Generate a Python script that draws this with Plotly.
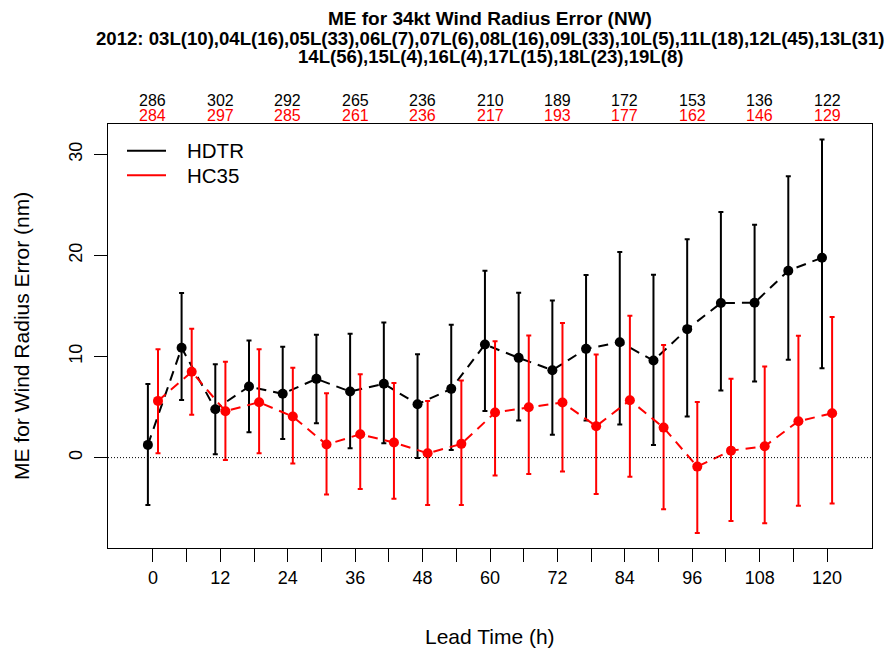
import plotly.graph_objects as go

lead_times = [0, 6, 12, 18, 24, 30, 36, 42, 48, 54, 60, 66, 72, 78, 84, 90, 96, 102, 108, 114, 120]

hdtr_mean = [1.26, 10.86, 4.79, 7.03, 6.31, 7.79, 6.54, 7.30, 5.28, 6.80, 11.19, 9.87, 8.65, 10.76,
             11.42, 9.60, 12.71, 15.29, 15.32, 18.49, 19.77]
hdtr_upper = [7.27, 16.28, 9.24, 11.59, 10.96, 12.15, 12.25, 13.37, 10.23, 13.14, 18.49, 16.31, 15.55, 18.06,
              20.34, 18.09, 21.59, 24.30, 23.04, 27.82, 31.46]
hdtr_lower = [-4.68, 5.71, 0.33, 2.51, 1.85, 3.40, 0.93, 1.42, -0.03, 0.76, 4.62, 3.67, 2.25, 3.67,
              3.27, 1.26, 4.06, 6.63, 7.53, 9.67, 8.85]

hc35_mean = [5.61, 8.49, 4.59, 5.48, 4.06, 1.29, 2.31, 1.49, 0.43, 1.36, 4.46, 4.99, 5.45, 3.11,
             5.68, 2.97, -0.89, 0.69, 1.13, 3.60, 4.39]
hc35_upper = [10.73, 12.74, 9.48, 10.73, 8.88, 6.37, 8.25, 7.37, 5.61, 7.63, 11.52, 12.08, 13.31, 10.20,
              14.03, 11.13, 5.51, 7.79, 9.01, 12.05, 13.90]
hc35_lower = [0.43, 4.23, -0.23, 0.43, -0.59, -3.66, -3.10, -4.06, -4.68, -4.68, -1.78, -1.61, -1.38, -3.59,
              -1.88, -5.11, -7.46, -6.27, -6.50, -4.75, -4.55]

count_times = [0, 12, 24, 36, 48, 60, 72, 84, 96, 108, 120]
hdtr_counts = [286, 302, 292, 265, 236, 210, 189, 172, 153, 136, 122]
hc35_counts = [284, 297, 285, 261, 236, 217, 193, 177, 162, 146, 129]

series_names = ["HDTR", "HC35"]
series_colors = ["black", "red"]

title_lines = [
    "ME for 34kt Wind Radius Error (NW)",
    "2012: 03L(10),04L(16),05L(33),06L(7),07L(6),08L(16),09L(33),10L(5),11L(18),12L(45),13L(31)",
    "14L(56),15L(4),16L(4),17L(15),18L(23),19L(8)",
]

FONT = "Liberation Sans, Arial, Helvetica, sans-serif"

# page is 894x654; the figure div sits at the page's default 8px body margin
OFF = 8
PAGE_W, PAGE_H = 894, 654
W, H = PAGE_W - OFF, PAGE_H - OFF
BOX_L, BOX_R, BOX_T, BOX_B = 108, 872, 124, 548          # plot box in page pixels
ML, MR, MT, MB = BOX_L - OFF, PAGE_W - BOX_R, BOX_T - OFF, PAGE_H - BOX_B
PW, PH = BOX_R - BOX_L, BOX_B - BOX_T


def px_x(X):
    return (X - BOX_L) / PW


def px_y(Y):
    return (BOX_B - Y) / PH


fig = go.Figure()

offsets = [-0.9, 0.9]
for name, color, mean, up, lo, off in [
    ("HDTR", "black", hdtr_mean, hdtr_upper, hdtr_lower, offsets[0]),
    ("HC35", "red", hc35_mean, hc35_upper, hc35_lower, offsets[1]),
]:
    xs = [t + off for t in lead_times]
    fig.add_trace(go.Scatter(
        x=xs, y=mean, mode="lines+markers", name=name, showlegend=False,
        line=dict(color=color, width=2, dash="10px,7px"),
        marker=dict(color=color, size=10, line=dict(width=0)),
        error_y=dict(type="data", symmetric=False,
                     array=[u - m for u, m in zip(up, mean)],
                     arrayminus=[m - l for m, l in zip(mean, lo)],
                     color=color, thickness=2, width=2.5),
    ))

tickvals = list(range(0, 121, 6))
ticktext = [str(v) if v % 12 == 0 else "" for v in tickvals]

fig.update_layout(
    width=W, height=H,
    margin=dict(l=ML, r=MR, t=MT, b=MB, autoexpand=False),
    paper_bgcolor="white", plot_bgcolor="white",
    font=dict(family=FONT, color="black"),
    showlegend=False,
    xaxis=dict(range=[-8.0, 128.0], tickvals=tickvals, ticktext=ticktext,
               ticks="outside", ticklen=13, tickwidth=1, tickcolor="black",
               showline=True, mirror=True, linecolor="black", linewidth=1,
               showgrid=False, zeroline=False, tickfont=dict(size=18), automargin=False),
    yaxis=dict(range=[-8.94, 33.0], tickvals=[0, 10, 20, 30],
               ticks="outside", ticklen=13, tickwidth=1, tickcolor="black",
               showline=True, mirror=True, linecolor="black", linewidth=1,
               showgrid=False, zeroline=False, tickangle=-90, tickfont=dict(size=18),
               ticklabelstandoff=5, automargin=False),
)

# zero reference line
fig.add_shape(type="line", xref="paper", yref="y", x0=0, x1=1, y0=0, y1=0,
              line=dict(color="black", width=1, dash="1px,2px"))

annotations = []
# titles
for text, ycap, fs in zip(title_lines, [18.5, 38.9, 56.6], [19, 18.6, 18.6]):
    annotations.append(dict(text="<b>%s</b>" % text, xref="paper", yref="paper",
                            x=0.5, y=px_y(ycap), xanchor="center", yanchor="middle",
                            showarrow=False, font=dict(size=fs, family=FONT)))
# counts
for t, c1, c2 in zip(count_times, hdtr_counts, hc35_counts):
    annotations.append(dict(text=str(c1), xref="x", yref="paper", x=t, y=px_y(100.5),
                            xanchor="center", yanchor="middle", showarrow=False,
                            font=dict(size=16, color="black")))
    annotations.append(dict(text=str(c2), xref="x", yref="paper", x=t, y=px_y(115.5),
                            xanchor="center", yanchor="middle", showarrow=False,
                            font=dict(size=16, color="red")))
# axis titles
annotations.append(dict(text="Lead Time (h)", xref="paper", yref="paper", x=0.5, y=px_y(636),
                        xanchor="center", yanchor="middle", showarrow=False, font=dict(size=21)))
annotations.append(dict(text="ME for Wind Radius Error (nm)", xref="paper", yref="paper",
                        x=px_x(21), y=0.5, xanchor="center", yanchor="middle", textangle=-90,
                        showarrow=False, font=dict(size=21)))
# legend
for name, color, ly in zip(series_names, series_colors, [150.7, 175.3]):
    fig.add_shape(type="line", xref="paper", yref="paper", x0=px_x(127), x1=px_x(166),
                  y0=px_y(ly), y1=px_y(ly), line=dict(color=color, width=2))
    annotations.append(dict(text=name, xref="paper", yref="paper", x=px_x(185), y=px_y(ly),
                            xanchor="left", yanchor="middle", showarrow=False,
                            font=dict(size=20.5, color="black")))

fig.update_layout(annotations=annotations)
fig.write_html("out.html")
